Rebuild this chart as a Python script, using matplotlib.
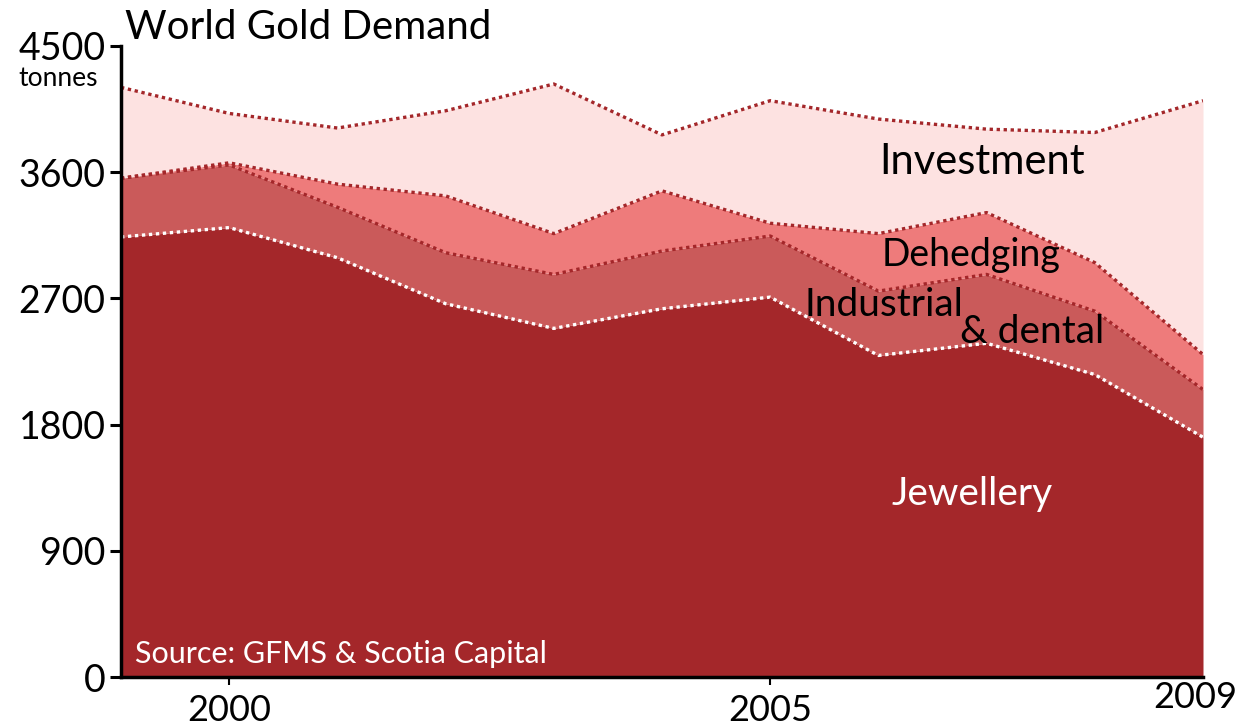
import numpy as np
import matplotlib.pyplot as plt

plt.rcParams['font.family'] = ['Lato', 'DejaVu Sans']

# World gold demand by use, tonnes
years = [1999, 2000, 2001, 2002, 2003, 2004, 2005, 2006, 2007, 2008, 2009]
jewellery = [3138, 3205, 2990, 2662, 2486, 2626, 2709, 2293, 2380, 2157, 1710]
industrial = [419, 447, 360, 364, 385, 412, 436, 459, 491, 452, 340]
dehedging = [0, 15, 165, 405, 291, 429, 91, 410, 441, 346, 250]
investment = [648, 352, 400, 607, 1067, 399, 874, 817, 595, 928, 1810]

layers = [
    (jewellery, '#a4272a', 'white'),
    (industrial, '#ca5a5a', '#a4272a'),
    (dehedging, '#ee7b7b', '#a4272a'),
    (investment, '#fde2e1', '#a4272a'),
]

fig = plt.figure(figsize=(12.38, 7.28), dpi=100)
ax = fig.add_axes([121 / 1238, 1 - 677 / 728, 1082 / 1238, 631 / 728])

x = np.array(years)
base = np.zeros(len(years))
for vals, fill, edge in layers:
    top = base + np.array(vals)
    ax.fill_between(x, base, top, color=fill, lw=0, zorder=1)
    base = top

# dotted edges drawn afterwards so they sit on top of every fill
base = np.zeros(len(years))
for vals, fill, edge in layers:
    top = base + np.array(vals)
    ax.plot(x, top, color=edge, lw=2.4, linestyle=(0, (1, 1.1)), zorder=3)
    base = top

ax.set_xlim(1999, 2009)
ax.set_ylim(0, 4500)
ax.set_yticks([0, 900, 1800, 2700, 3600, 4500])
ax.set_xticks([2000, 2005])
ax.set_xticklabels(['2000', '2005'])

for side in ['top', 'right']:
    ax.spines[side].set_visible(False)
ax.spines['left'].set_linewidth(2.5)
ax.spines['bottom'].set_linewidth(2.5)
ax.spines['left'].set_zorder(5)
ax.spines['bottom'].set_zorder(5)

ax.tick_params(axis='y', length=8, width=2.2, labelsize=27, pad=3)
ax.tick_params(axis='x', length=6, width=1.5, labelsize=26, pad=6)

# last year label sits higher, flush with the right edge
fig.text(1237 / 1238, 1 - 697 / 728, '2009', fontsize=26, ha='right', va='center')

fig.text(125 / 1238, 1 - 39 / 728, 'World Gold Demand', fontsize=29, ha='left', va='baseline')
fig.text(58 / 1238, 1 - 86 / 728, 'tonnes', fontsize=19, ha='center', va='baseline')

ax.text(2006.96, 3671, 'Investment', fontsize=30, ha='center', va='center', zorder=6)
ax.text(2006.86, 3007, 'Dehedging', fontsize=27, ha='center', va='center', zorder=6)
ax.text(2006.05, 2650, 'Industrial', fontsize=28, ha='center', va='center', zorder=6)
ax.text(2007.42, 2457, '& dental', fontsize=28, ha='center', va='center', zorder=6)
ax.text(2006.87, 1307, 'Jewellery', fontsize=28, ha='center', va='center',
        color='white', zorder=6)
ax.text(1999.13, 164, 'Source: GFMS & Scotia Capital', fontsize=22, ha='left',
        va='center', color='white', zorder=6)

fig.savefig('out.png', dpi=100)
